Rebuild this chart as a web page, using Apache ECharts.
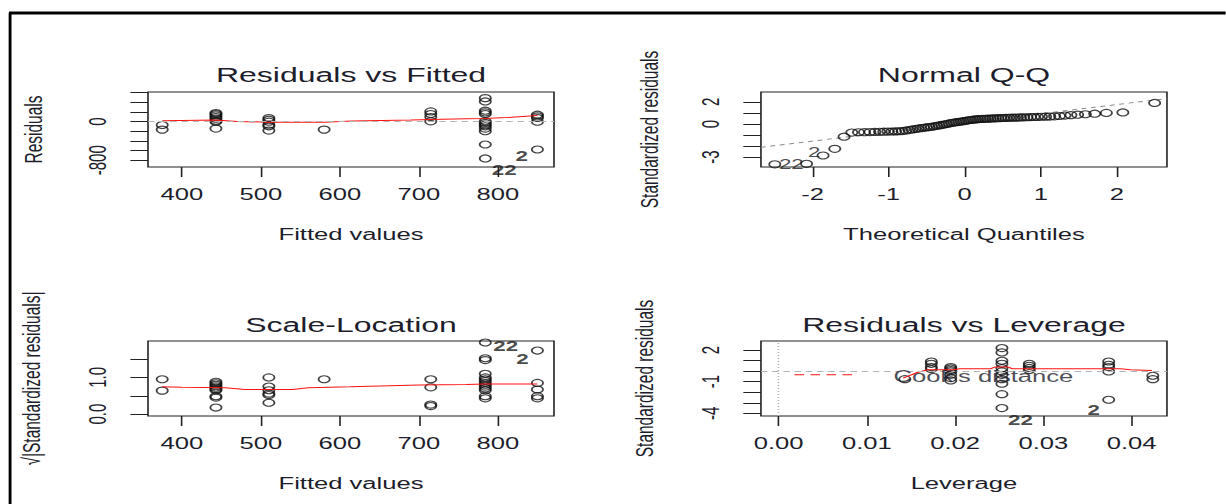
<!DOCTYPE html>
<html><head><meta charset="utf-8">
<script src="https://cdn.jsdelivr.net/npm/echarts@6/dist/echarts.min.js"></script>
<style>
html,body{margin:0;padding:0;background:#fff;overflow:hidden;width:1226px;height:504px}
#c{width:766.25px;height:504px;transform:scaleX(1.6);transform-origin:0 0}
</style></head><body><div id="c"></div>
<script>
// ---------- Residuals vs Fitted ----------
const p1Fitted = [375,375,443,443,443,443,443,443,443,443,510,510,510,510,510,510,580,715,715,715,715,784,784,784,784,784,784,784,784,784,784,784,784,784,850,850,850,850,850];
const p1Resid  = [-69,-165,179,158,130,96,62,21,0,-144,76,41,0,-62,-96,-185,-165,213,158,96,7,488,419,227,192,158,7,-27,-62,-96,-144,-199,-474,-763,144,110,76,0,-577];
const p1SmoothX = [375,443,470,510,580,615,690,715,760,784,810,850];
const p1SmoothY = [20,35,5,-12,-12,15,35,45,60,65,85,130];
const p1XTicks = [400,500,600,700,800];
const p1YTicks = [-800,-600,-400,-200,0,200,400,600];
const p1YLabels = [-800,0];
const p1LabelX = [808,830];
const p1LabelY = [-1010,-720];
const p1LabelText = ['22','2'];

// ---------- Normal Q-Q ----------
const qqTheo = [-2.498,-2.080,-1.863,-1.709,-1.587,-1.485,-1.397,-1.318,-1.247,-1.181,-1.120,-1.064,-1.010,-0.959,-0.911,-0.865,-0.820,-0.776,-0.734,-0.694,-0.655,-0.616,-0.579,-0.542,-0.506,-0.471,-0.436,-0.402,-0.368,-0.335,-0.302,-0.270,-0.237,-0.205,-0.173,-0.142,-0.110,-0.078,-0.047,-0.016,0.016,0.047,0.078,0.110,0.142,0.173,0.205,0.237,0.270,0.302,0.335,0.368,0.402,0.436,0.471,0.506,0.542,0.579,0.616,0.655,0.694,0.734,0.776,0.820,0.865,0.911,0.959,1.010,1.064,1.120,1.181,1.247,1.318,1.397,1.485,1.587,1.709,1.863,2.080,2.498];
const qqStd = [-3.65,-3.60,-2.85,-2.25,-1.15,-0.78,-0.75,-0.74,-0.73,-0.72,-0.71,-0.70,-0.69,-0.68,-0.67,-0.66,-0.64,-0.60,-0.55,-0.50,-0.46,-0.42,-0.38,-0.34,-0.31,-0.28,-0.25,-0.21,-0.17,-0.13,-0.09,-0.05,0.00,0.05,0.09,0.13,0.16,0.19,0.22,0.25,0.29,0.33,0.36,0.39,0.41,0.43,0.45,0.46,0.47,0.48,0.49,0.50,0.51,0.52,0.53,0.54,0.55,0.56,0.57,0.57,0.58,0.59,0.60,0.61,0.62,0.63,0.64,0.65,0.66,0.67,0.69,0.72,0.76,0.80,0.84,0.88,0.93,1.00,1.04,1.90,2.25];
const qqLineX = [-2.68,2.66];
const qqLineY = [-2.11,2.30];
const qqXTicks = [-2,-1,0,1,2];
const qqYTicks = [-3,-2,-1,0,1,2];
const qqYLabels = [-3,0,2];
const qqLabelX = [-1.98,-2.28];
const qqLabelY = [-2.55,-3.62];
const qqLabelText = ['2','22'];

// ---------- Scale-Location ----------
const p3Fitted = [375,375,443,443,443,443,443,443,443,443,443,443,510,510,510,510,510,510,580,715,715,715,715,784,784,784,784,784,784,784,784,784,784,784,784,784,784,850,850,850,850,850];
const p3Sqrt = [0.95,0.64,0.88,0.84,0.80,0.76,0.72,0.68,0.65,0.49,0.45,0.18,1.0,0.75,0.65,0.56,0.52,0.31,0.95,0.95,0.73,0.26,0.22,1.95,1.52,1.47,1.1,1.0,0.95,0.9,0.85,0.8,0.75,0.7,0.65,0.49,0.43,1.73,0.85,0.67,0.49,0.43];
const p3SmoothX = [375,400,455,480,540,560,613,700,760,784,850];
const p3SmoothY = [0.745,0.73,0.72,0.67,0.67,0.72,0.745,0.79,0.81,0.82,0.82];
const p3YTicks = [0,0.5,1.0,1.5];
const p3YLabels = [0,1.0];
const p3LabelX = [810,831];
const p3LabelY = [1.86,1.50];
const p3LabelText = ['22','2'];

// ---------- Residuals vs Leverage ----------
const p4Lev = [0.0143,0.0173,0.0173,0.0173,0.0173,0.0195,0.0195,0.0195,0.0195,0.0195,0.0195,0.0195,0.0253,0.0253,0.0253,0.0253,0.0253,0.0253,0.0253,0.0253,0.0253,0.0253,0.0253,0.0284,0.0284,0.0284,0.0284,0.0374,0.0374,0.0374,0.0374,0.0374,0.0424,0.0424];
const p4Res = [-0.76,0.91,0.69,0.38,0.19,0.38,0.25,0.1,-0.03,-0.35,-0.66,-0.88,2.18,1.77,0.98,0.69,0.28,-0.03,-0.35,-0.76,-1.2,-2.18,-3.5,0.69,0.5,0.3,0.1,0.91,0.6,0.38,-0.03,-2.71,-0.44,-0.76];
const p4SmoothX = [0.0141,0.0157,0.0169,0.0198,0.0205,0.0240,0.0245,0.0260,0.0265,0.0387,0.0399,0.0423];
const p4SmoothY = [-0.66,-0.13,0.13,0.13,0.22,0.22,0.38,0.38,0.22,0.22,0.13,0.06];
const p4XTicks = [0,0.01,0.02,0.03,0.04];
const p4YTicks = [-4,-3,-2,-1,0,1,2];
const p4YLabels = [-4,-1,2];
const cookLegendX = [0.0018,0.0085];
const cookLegendY = [-0.35,-0.35];
const cookTextX = [0.0232];
const cookTextY = [-0.5];
const cookText = ["Cook's distance"];
const p4LabelX = [0.0274,0.0357];
const p4LabelY = [-4.6,-3.72];
const p4LabelText = ['22','2'];

const titles = ['Residuals vs Fitted','Normal Q-Q','Scale-Location','Residuals vs Leverage'];
const xNames = ['Fitted values','Theoretical Quantiles','Fitted values','Leverage'];
const yNames = ['Residuals','Standardized residuals','\u221A|Standardized residuals|','Standardized residuals'];

// ---------- build ----------
const FONT = '"Liberation Sans", Arial, sans-serif';
const TXT = '#1d1d2b';
const zip = (a,b) => a.map((v,i)=>[v,b[i]]);
const zip3 = (a,b,c) => a.map((v,i)=>[v,b[i],c[i]]);

const boxW = 253.75, boxH = 75;
const grids = [
  {left:92.5, top:92},{left:475.6, top:92},{left:92.5, top:341},{left:475.6, top:341}
].map(g=>({left:g.left, top:g.top, width:boxW, height:boxH, show:true, borderColor:'#222', borderWidth:1, backgroundColor:'transparent'}));

function xAx(i, min, max, ticks, fmt){
  return {type:'value', gridIndex:i, min, max, position:'bottom',
    axisLine:{show:false, onZero:false}, splitLine:{show:false},
    axisTick:{show:true, length:10, customValues:ticks, lineStyle:{color:'#222', width:1}},
    axisLabel:{customValues:ticks, margin:20, fontSize:16, color:TXT, fontFamily:FONT, formatter:fmt||(v=>String(v))},
    name:xNames[i], nameLocation:'middle', nameGap:60,
    nameTextStyle:{fontSize:16, color:TXT, fontFamily:FONT}};
}
function yAx(i, min, max, ticks, labels, gap, fmt){
  return {type:'value', gridIndex:i, min, max, position:'left',
    axisLine:{show:false, onZero:false}, splitLine:{show:false},
    axisTick:{show:true, length:11, customValues:ticks, lineStyle:{color:'#222', width:1}},
    axisLabel:{customValues:labels, rotate:90, margin:24, fontSize:15, color:TXT, fontFamily:FONT, formatter:fmt||(v=>String(v))},
    name:yNames[i], nameLocation:'middle', nameGap:gap, nameRotate:90,
    nameTextStyle:{fontSize:15.5, color:TXT, fontFamily:FONT}};
}
const pts = (i, data) => ({type:'scatter', xAxisIndex:i, yAxisIndex:i, data, symbol:'circle', symbolSize:7,
  itemStyle:{color:'rgba(0,0,0,0)', borderColor:'#111', borderWidth:1.1}, silent:true, z:3});
const smooth = (i, data) => ({type:'line', xAxisIndex:i, yAxisIndex:i, data, showSymbol:false, symbol:'none',
  lineStyle:{color:'#ff1010', width:1}, silent:true, z:4});
const labels = (i, data, bold) => ({type:'scatter', xAxisIndex:i, yAxisIndex:i, data, symbolSize:0, clip:false, silent:true, z:5,
  label:{show:true, position:'inside', formatter:p=>p.value[2], fontSize:14, fontWeight:bold?'bold':'normal', color:'#1a1a1a', fontFamily:FONT}});
const hline = (i) => ({type:'line', xAxisIndex:i, yAxisIndex:i, data:[], silent:true,
  markLine:{silent:true, symbol:'none', label:{show:false}, lineStyle:{color:'#b4b4b4', type:[4,3], width:1}, data:[{yAxis:0}]}});

const option = {
  animation:false,
  backgroundColor:'#fff',
  title: titles.map((t,i)=>({text:t, left:[219.4,602.5,219.4,602.5][i], top:[65,65,315,315][i], textAlign:'center', padding:0,
    textStyle:{fontSize:20, fontWeight:'normal', color:TXT, fontFamily:FONT}})),
  grid: grids,
  xAxis: [
    xAx(0, 357, 871, p1XTicks),
    xAx(1, -2.68, 2.66, qqXTicks),
    xAx(2, 357, 871, p1XTicks),
    xAx(3, -0.002, 0.044, p4XTicks, v=>v.toFixed(2))
  ],
  yAxis: [
    yAx(0, -940, 615, p1YTicks, p1YLabels, 64),
    yAx(1, -3.89, 2.89, qqYTicks, qqYLabels, 62),
    yAx(2, -0.05, 1.99, p3YTicks, p3YLabels, 65, v=>v.toFixed(1)),
    yAx(3, -4.25, 2.85, p4YTicks, p4YLabels, 65)
  ],
  graphic: [
    {type:'line', shape:{x1:5.6, y1:13, x2:766.25, y2:13}, style:{stroke:'#000', lineWidth:3}, silent:true},
    {type:'line', shape:{x1:6.3, y1:13, x2:6.3, y2:504}, style:{stroke:'#000', lineWidth:1.8}, silent:true}
  ],
  series: [
    hline(0),
    pts(0, zip(p1Fitted, p1Resid)),
    smooth(0, zip(p1SmoothX, p1SmoothY)),
    labels(0, zip3(p1LabelX, p1LabelY, p1LabelText), true),

    {type:'line', xAxisIndex:1, yAxisIndex:1, data:zip(qqLineX, qqLineY), showSymbol:false, symbol:'none', silent:true,
      lineStyle:{color:'#8c8c8c', type:[3,3], width:1}, z:2},
    pts(1, zip(qqTheo, qqStd)),
    labels(1, zip3(qqLabelX, qqLabelY, qqLabelText), false),

    pts(2, zip(p3Fitted, p3Sqrt)),
    smooth(2, zip(p3SmoothX, p3SmoothY)),
    labels(2, zip3(p3LabelX, p3LabelY, p3LabelText), true),

    {type:'line', xAxisIndex:3, yAxisIndex:3, data:[], silent:true,
      markLine:{silent:true, symbol:'none', label:{show:false}, data:[
        {yAxis:0, lineStyle:{color:'#b4b4b4', type:[4,3], width:1}},
        {xAxis:0, lineStyle:{color:'#b4b4b4', type:[1,2], width:1}}
      ]}},
    pts(3, zip(p4Lev, p4Res)),
    smooth(3, zip(p4SmoothX, p4SmoothY)),
    {type:'line', xAxisIndex:3, yAxisIndex:3, data:zip(cookLegendX, cookLegendY), showSymbol:false, symbol:'none', silent:true,
      lineStyle:{color:'#ff1010', type:[6,4], width:1}},
    {type:'scatter', xAxisIndex:3, yAxisIndex:3, data:zip3(cookTextX, cookTextY, cookText), symbolSize:0, silent:true, z:6,
      label:{show:true, position:'inside', formatter:p=>p.value[2], fontSize:16, color:TXT, fontFamily:FONT}},
    labels(3, zip3(p4LabelX, p4LabelY, p4LabelText), true)
  ]
};
const chart = echarts.init(document.getElementById('c'), null, {renderer:'svg', width:766.25, height:504});
chart.setOption(option);
</script>
</body></html>
